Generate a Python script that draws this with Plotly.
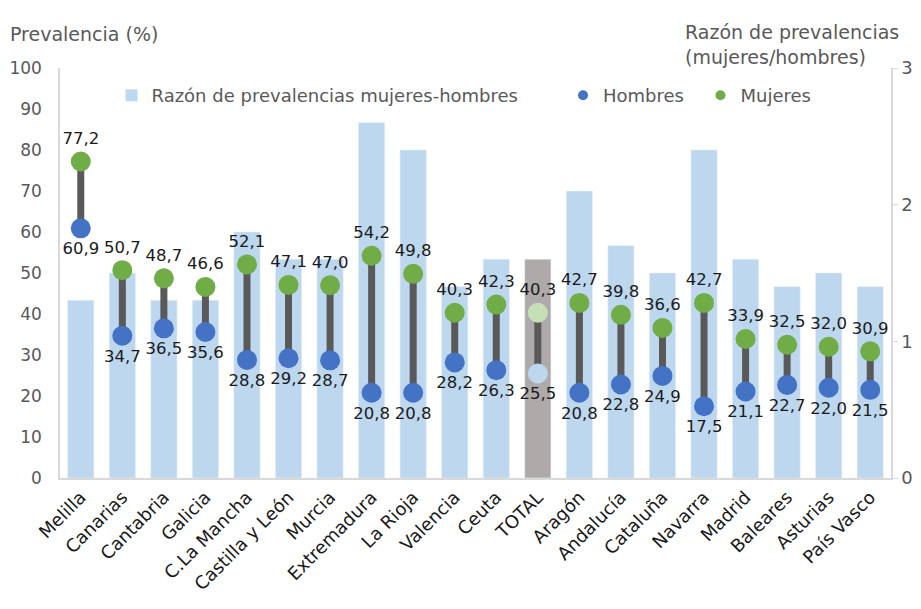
import plotly.graph_objects as go

FONT = "DejaVu Sans"
GREY_TXT = "#595959"
NB = "\u00a0"

regiones = [
    "Melilla", "Canarias", "Cantabria", "Galicia", "C.La Mancha", "Castilla y León",
    "Murcia", "Extremadura", "La Rioja", "Valencia", "Ceuta", "TOTAL", "Aragón",
    "Andalucía", "Cataluña", "Navarra", "Madrid", "Baleares", "Asturias", "País Vasco",
]
mujeres = [77.2, 50.7, 48.7, 46.6, 52.1, 47.1, 47.0, 54.2, 49.8, 40.3,
           42.3, 40.3, 42.7, 39.8, 36.6, 42.7, 33.9, 32.5, 32.0, 30.9]
hombres = [60.9, 34.7, 36.5, 35.6, 28.8, 29.2, 28.7, 20.8, 20.8, 28.2,
           26.3, 25.5, 20.8, 22.8, 24.9, 17.5, 21.1, 22.7, 22.0, 21.5]
razon = [1.3, 1.5, 1.3, 1.3, 1.8, 1.6, 1.6, 2.6, 2.4, 1.4,
         1.6, 1.6, 2.1, 1.7, 1.5, 2.4, 1.6, 1.4, 1.5, 1.4]


def fmt(v):
    return f"{v:.1f}".replace(".", ",")


is_total = [r == "TOTAL" for r in regiones]
bar_colors = ["#AEAAAA" if t else "#BDD7EE" for t in is_total]
h_colors = ["#BDD7EE" if t else "#4472C4" for t in is_total]
m_colors = ["#C5E0B4" if t else "#70AD47" for t in is_total]

# connecting segments hombres -> mujeres
seg_x, seg_y = [], []
for r, h, m in zip(regiones, hombres, mujeres):
    seg_x += [r, r, None]
    seg_y += [h, m, None]

fig = go.Figure()

# bars on the primary axis (drawn on the right), dots overlay on y2 (left)
fig.add_trace(go.Bar(
    x=regiones, y=razon, marker_color=bar_colors, width=0.63,
    name="Razón de prevalencias mujeres-hombres", showlegend=False,
    hoverinfo="skip",
))
fig.add_trace(go.Scatter(
    x=seg_x, y=seg_y, mode="lines", yaxis="y2",
    line=dict(color="#595959", width=7), showlegend=False, hoverinfo="skip",
))
fig.add_trace(go.Scatter(
    x=regiones, y=hombres, mode="markers+text", yaxis="y2", name="Hombres",
    marker=dict(color=h_colors, size=20),
    text=[fmt(v) for v in hombres], textposition="bottom center",
    textfont=dict(family=FONT, size=16.5, color="#1a1a1a"), showlegend=False,
))
fig.add_trace(go.Scatter(
    x=regiones, y=mujeres, mode="markers+text", yaxis="y2", name="Mujeres",
    marker=dict(color=m_colors, size=20),
    text=[fmt(v) for v in mujeres], textposition="top center",
    textfont=dict(family=FONT, size=16.5, color="#1a1a1a"), showlegend=False,
))

# legend entries
fig.add_trace(go.Bar(x=[None], y=[None], marker_color="#BDD7EE",
                     name="Razón de prevalencias mujeres-hombres" + NB * 7))
fig.add_trace(go.Scatter(x=[None], y=[None], mode="markers", yaxis="y2",
                         marker=dict(color="#4472C4", size=10), name="Hombres" + NB * 2))
fig.add_trace(go.Scatter(x=[None], y=[None], mode="markers", yaxis="y2",
                         marker=dict(color="#70AD47", size=10), name="Mujeres"))

fig.update_layout(
    width=921, height=609,
    margin=dict(l=60, r=30, t=68, b=131),
    paper_bgcolor="white", plot_bgcolor="white",
    font=dict(family=FONT, size=17, color=GREY_TXT),
    barmode="overlay",
    xaxis=dict(
        categoryorder="array", categoryarray=regiones, automargin=False,
        range=[-0.5, len(regiones) - 0.5],
        tickangle=-45, tickfont=dict(size=18, color="#1a1a1a"),
        showline=True, linecolor="#d9d9d9", linewidth=1.5,
        showgrid=False, ticks="",
    ),
    yaxis=dict(
        side="right", range=[0, 3], dtick=1, showgrid=False, zeroline=False,
        showline=True, linecolor="#d9d9d9", linewidth=1.5, automargin=False,
        ticks="outside", ticklen=5, tickcolor="#d9d9d9",
        tickfont=dict(size=18, color=GREY_TXT),
    ),
    yaxis2=dict(
        side="left", overlaying="y", range=[0, 100], dtick=10,
        showgrid=False, zeroline=False, automargin=False,
        showline=True, linecolor="#d9d9d9", linewidth=1.5,
        ticks="", ticklabelstandoff=13, tickfont=dict(size=17, color=GREY_TXT),
    ),
    legend=dict(
        orientation="h", x=0.062, y=0.978, xanchor="left", yanchor="top",
        bgcolor="rgba(0,0,0,0)", font=dict(size=18, color=GREY_TXT),
    ),
    annotations=[
        dict(text="Prevalencia (%)", xref="paper", yref="paper",
             x=-0.062, y=1.05, xanchor="left", yanchor="bottom",
             showarrow=False, font=dict(size=19, color=GREY_TXT)),
        dict(text="Razón de prevalencias<br>(mujeres/hombres)", xref="paper", yref="paper",
             x=0.75, y=0.995, xanchor="left", yanchor="bottom", align="left",
             showarrow=False, font=dict(size=19, color=GREY_TXT)),
    ],
)

fig.write_html("out.html", config={"displayModeBar": False},
               post_script="document.body.style.margin='0';")
